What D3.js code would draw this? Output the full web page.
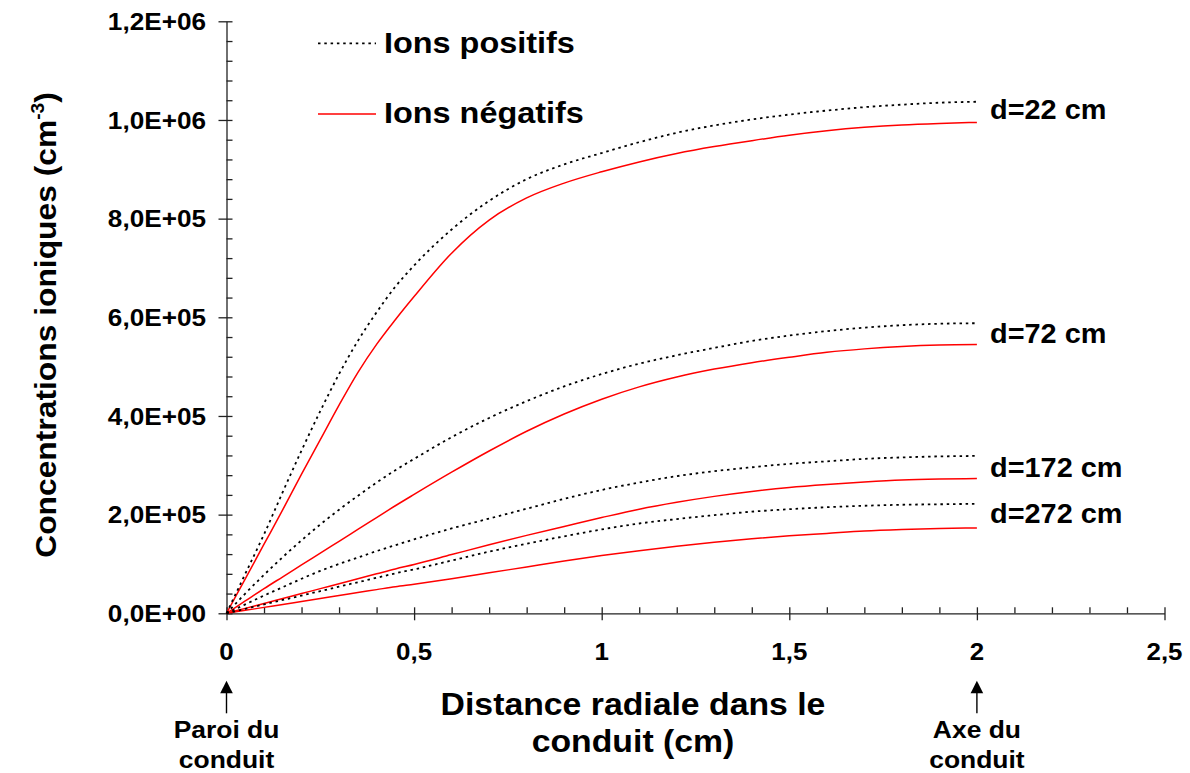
<!DOCTYPE html>
<html><head><meta charset="utf-8">
<script src="https://cdn.jsdelivr.net/npm/d3@7"></script>
<style>
html,body{margin:0;padding:0;background:#fff;}
text{font-family:"Liberation Sans",Arial,sans-serif;font-weight:bold;fill:#000;}
</style></head>
<body>
<svg id="chart" width="1190" height="773"></svg>
<script>
// ---- data ----
const xValues = [0,0.05,0.1,0.15,0.2,0.25,0.3,0.35,0.4,0.45,0.5,0.6,0.7,0.8,0.9,1.0,1.1,1.2,1.3,1.4,1.5,1.6,1.7,1.8,1.9,2.0];
// values in units of 1e5 cm^-3
const pos22  = [0,0.8,1.6,2.46,3.3,4.1,4.85,5.52,6.1,6.62,7.05,7.78,8.36,8.8,9.1,9.33,9.55,9.74,9.89,10.01,10.11,10.19,10.26,10.31,10.35,10.37];
const neg22  = [0,0.7,1.4,2.1,2.82,3.52,4.22,4.88,5.45,5.95,6.42,7.3,7.97,8.42,8.72,8.95,9.15,9.32,9.46,9.58,9.69,9.78,9.85,9.9,9.93,9.95];
const pos72  = [0,0.4,0.78,1.14,1.48,1.8,2.1,2.38,2.65,2.9,3.13,3.57,3.96,4.3,4.6,4.85,5.06,5.23,5.38,5.52,5.63,5.72,5.79,5.84,5.87,5.88];
const neg72  = [0,0.25,0.5,0.74,0.98,1.22,1.46,1.7,1.94,2.18,2.41,2.86,3.29,3.69,4.04,4.34,4.59,4.79,4.95,5.08,5.19,5.29,5.36,5.41,5.44,5.45];
const pos172 = [0,0.18,0.36,0.53,0.7,0.86,1.0,1.13,1.26,1.38,1.5,1.72,1.92,2.12,2.32,2.5,2.65,2.78,2.88,2.96,3.03,3.08,3.13,3.16,3.18,3.19];
const neg172 = [0,0.1,0.2,0.3,0.4,0.5,0.6,0.7,0.8,0.9,0.99,1.19,1.39,1.58,1.76,1.94,2.11,2.25,2.37,2.47,2.55,2.61,2.66,2.7,2.72,2.73];
const pos272 = [0,0.09,0.18,0.27,0.36,0.45,0.54,0.63,0.72,0.81,0.89,1.07,1.25,1.41,1.56,1.7,1.82,1.91,1.99,2.06,2.11,2.15,2.18,2.2,2.21,2.22];
const neg272 = [0,0.06,0.12,0.18,0.24,0.3,0.36,0.42,0.48,0.54,0.59,0.7,0.82,0.94,1.06,1.17,1.27,1.36,1.44,1.51,1.57,1.62,1.67,1.7,1.72,1.73];
const curveLabels = ["d=22 cm","d=72 cm","d=172 cm","d=272 cm"];
const legendLabels = ["Ions positifs","Ions négatifs"];
const xTicks = [0,0.5,1,1.5,2,2.5];
const xTickLabels = ["0","0,5","1","1,5","2","2,5"];
const yTicks = [0,2e5,4e5,6e5,8e5,1e6,1.2e6];
const yTickLabels = ["0,0E+00","2,0E+05","4,0E+05","6,0E+05","8,0E+05","1,0E+06","1,2E+06"];
const xTitleLines = ["Distance radiale dans le","conduit (cm)"];
const yTitle = "Concentrations ioniques (cm";
const annotations = [{x:0, lines:["Paroi du","conduit"]},{x:2, lines:["Axe du","conduit"]}];

// ---- layout ----
const svg = d3.select("#chart");
const x = d3.scaleLinear().domain([0,2.5]).range([226.5,1164.5]);
const y = d3.scaleLinear().domain([0,1.2e6]).range([613.3,21.3]);
const unit = 1e5;

// axes
const yMinor = d3.range(0,1.2e6+1,4e4).filter(v=>!yTicks.includes(v));
const xMinor = d3.range(0,26).map(i=>i/10).filter(v=>Math.abs(v*2-Math.round(v*2))>1e-6);

const gy = svg.append("g").attr("transform",`translate(${x(0)},0)`)
  .call(d3.axisLeft(y).tickValues(yTicks).tickFormat("").tickSizeOuter(0));
gy.selectAll(".tick line").attr("x1",6).attr("x2",-8);
const gyMin = svg.append("g").attr("transform",`translate(${x(0)},0)`)
  .call(d3.axisLeft(y).tickValues(yMinor).tickFormat("").tickSize(-6).tickSizeOuter(0));
gyMin.select(".domain").remove();

const gx = svg.append("g").attr("transform",`translate(0,${y(0)})`)
  .call(d3.axisBottom(x).tickValues(xTicks).tickFormat("").tickSizeOuter(0));
gx.selectAll(".tick line").attr("y1",-6).attr("y2",7);
const gxMin = svg.append("g").attr("transform",`translate(0,${y(0)})`)
  .call(d3.axisBottom(x).tickValues(xMinor).tickFormat("").tickSize(-6).tickSizeOuter(0));
gxMin.select(".domain").remove();
svg.selectAll(".domain, .tick line").attr("stroke","#222").attr("stroke-width",1.3);

function stext(g, px, py, txt, size, sx, anchor){
  return g.append("text")
    .attr("transform",`translate(${px},${py}) scale(${sx},1)`)
    .attr("text-anchor",anchor||"start")
    .style("font-size",size+"px")
    .text(txt);
}

// tick labels
yTicks.forEach((v,i)=>stext(svg, 206, y(v)+8.6, yTickLabels[i], 24, 1.09, "end"));
xTicks.forEach((v,i)=>stext(svg, x(v), 660, xTickLabels[i], 24, 1.08, "middle"));

// series
const line = d3.line().x((d,i)=>x(xValues[i])).y(d=>y(d*unit)).curve(d3.curveMonotoneX);
const posSeries = [pos22,pos72,pos172,pos272];
const negSeries = [neg22,neg72,neg172,neg272];
negSeries.forEach(s=>svg.append("path").attr("d",line(s)).attr("fill","none")
  .attr("stroke","#ff0000").attr("stroke-width",1.5));
posSeries.forEach(s=>svg.append("path").attr("d",line(s)).attr("fill","none")
  .attr("stroke","#000").attr("stroke-width",1.8).attr("stroke-dasharray","2.5,3.8"));

// curve labels
const labelBase = [119.3,343.3,476.7,523.3];
curveLabels.forEach((t,i)=>stext(svg, 990, labelBase[i], t, 27, 1.07, "start"));

// legend
svg.append("line").attr("x1",318).attr("x2",376).attr("y1",43.3).attr("y2",43.3)
  .attr("stroke","#000").attr("stroke-width",1.8).attr("stroke-dasharray","2.5,3.8");
svg.append("line").attr("x1",318).attr("x2",376).attr("y1",114).attr("y2",114)
  .attr("stroke","#ff0000").attr("stroke-width",1.5);
stext(svg, 384, 52.5, legendLabels[0], 30, 1.08, "start");
stext(svg, 384, 123, legendLabels[1], 30, 1.08, "start");

// axis titles
xTitleLines.forEach((t,i)=>stext(svg, 633, 715+i*37, t, 31, 1.09, "middle"));
const yt = svg.append("text")
  .attr("transform",`translate(56,325) rotate(-90) scale(1.06,1)`)
  .attr("text-anchor","middle").style("font-size","30px");
yt.append("tspan").text(yTitle);
yt.append("tspan").attr("dy",-12).style("font-size","18px").text("-3");
yt.append("tspan").attr("dy",12).text(")");

// annotations
annotations.forEach(a=>{
  const ax = x(a.x);
  svg.append("line").attr("x1",ax).attr("x2",ax).attr("y1",690).attr("y2",713.3)
    .attr("stroke","#000").attr("stroke-width",1.4);
  svg.append("path").attr("d",`M${ax},680.7 L${ax-6.3},693.3 L${ax+6.3},693.3 Z`).attr("fill","#000");
  a.lines.forEach((t,i)=>stext(svg, ax, 738+i*30, t, 23, 1.15, "middle"));
});
</script>
</body></html>
